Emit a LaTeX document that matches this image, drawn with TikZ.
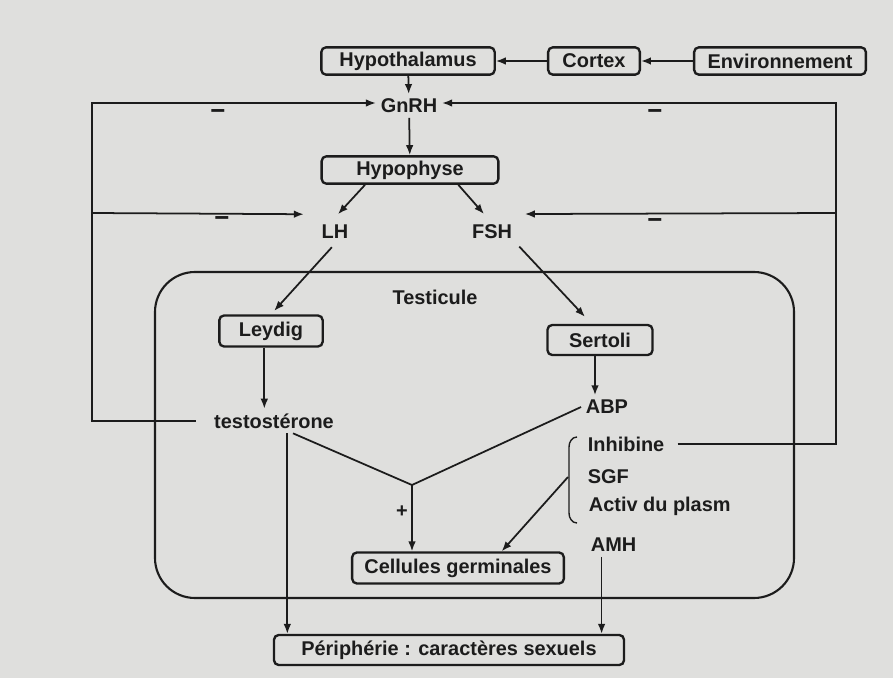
\documentclass[tikz,border=0pt]{standalone}
\usepackage{fontspec}
\setmainfont{Liberation Sans}
\usetikzlibrary{arrows.meta,calc}
\definecolor{paper}{RGB}{223,223,221}
\definecolor{ink}{RGB}{28,28,28}

\begin{document}
\begin{tikzpicture}[x=0.03cm, y=-0.03cm, >={Latex[length=8.5pt,width=6.5pt]},
  every node/.style={font=\fontsize{17}{20}\selectfont\bfseries, text=ink},
  box/.style={draw=ink, line width=2pt, rounded corners=4pt, inner sep=0pt},
  lbl/.style={inner sep=4pt},
  sign/.style={inner sep=2pt, font=\fontsize{22}{24}\selectfont\bfseries},
  link/.style={draw=ink, line width=1.5pt}]

  % Background
  \fill[paper] (0,0) rectangle (893,678);

  % Top row
  \node[box, minimum width=5.2cm, minimum height=0.82cm] (hypo) at (408,61) {Hypothalamus};
  \node[box, minimum width=2.75cm, minimum height=0.82cm] (cortex) at (594,61) {Cortex};
  \node[box, minimum width=5.15cm, minimum height=0.82cm] (env) at (780,61) {Environnement};
  \draw[link, ->] (env) -- (cortex);
  \draw[link, ->] (cortex) -- (hypo);

  % Hypophysis
  \node[lbl] (gnrh) at (409,106) {GnRH};
  \node[box, minimum width=5.3cm, minimum height=0.82cm] (hypoph) at (410,170) {Hypophyse};
  \node[lbl] (lh) at (335,232) {LH};
  \node[lbl] (fsh) at (492,232) {FSH};
  \draw[link, ->] (hypo) -- (gnrh);
  \draw[link, ->] (gnrh) -- (hypoph);
  \draw[link, ->] ([xshift=-1.35cm]hypoph.south) -- ([shift={(3,-6)}]lh.north);
  \draw[link, ->] ([xshift=1.45cm]hypoph.south) -- ([shift={(-8,-6)}]fsh.north);

  % Testicule
  \draw[draw=ink, line width=1.8pt, rounded corners=1.2cm] (155,272) rectangle (794,598);
  \node[lbl] (testis) at (435,297) {Testicule};
  \node[box, minimum width=3.1cm, minimum height=0.93cm] (leydig) at (271,331) {Leydig};
  \node[box, minimum width=3.15cm, minimum height=0.9cm] (sertoli) at (600,340) {Sertoli};
  \draw[link, ->, shorten <=4pt, shorten >=4pt] (lh.south) -- (leydig.north);
  \draw[link, ->, shorten <=3pt] (fsh.south east) -- ([shift={(-15,-7)}]sertoli.north);

  % Secretions
  \node[lbl] (testo) at (274,421) {testostérone};
  \node[lbl] (abp) at (607,407) {ABP};
  \node[lbl, anchor=west] (inhib) at (583,444) {Inhibine};
  \node[lbl, anchor=west] (sgf) at (583,477) {SGF};
  \node[lbl, anchor=west] (activ) at (584,506) {Activ du plasm};
  \node[lbl, anchor=west] (amh) at (586,545) {AMH};
  \draw[link, ->] ([xshift=-0.2cm]leydig.south) -- ([xshift=-0.2cm]leydig.south |- testo.north);
  \draw[link, ->] ([xshift=-0.15cm]sertoli.south) -- ([xshift=-0.15cm]sertoli.south |- abp.north);

  % Brace
  \draw[link, line width=1.2pt] (577,437) to[out=180, in=90] (569,447) -- (569,513)
    to[out=-90, in=180] (577,523);
  \coordinate (brace) at (568,477);

  % Targets
  \node[box, minimum width=6.35cm, minimum height=0.93cm] (germ) at (458,568) {Cellules germinales};
  \node[box, minimum width=10.5cm, minimum height=0.9cm] (periph) at (449,650) {Périphérie : caractères sexuels};

  % Action on germ cells
  \coordinate (vj) at (412,485);
  \draw[link] ([xshift=0.57cm]testo.south) -- (vj) -- (abp.west);
  \draw[link, ->] (vj) -- (vj |- germ.north);
  \node[lbl] (plus) at (402,512) {+};
  \draw[link, ->] (brace) -- ([xshift=-1.9cm]germ.north east);

  % Action on periphery
  \draw[link, ->] ([xshift=0.4cm]testo.south) -- ([xshift=0.4cm]testo.south |- periph.north);
  \draw[link, ->] ([xshift=-0.36cm]amh.south) -- ([xshift=-0.36cm]amh.south |- periph.north);

  % Feedback (left)
  \coordinate (fbl) at (92,103);
  \coordinate (fbl2) at (92,213);
  \draw[link, ->] ([xshift=-0.4cm]testo.west) -| (fbl) -- (fbl -| gnrh.west);
  \draw[link, ->] (fbl2) -- ([shift={(-13,-6)}]lh.north west);
  \node[sign] (minus1) at (218,115) {−};
  \node[sign] (minus2) at (222,222) {−};

  % Feedback (right)
  \coordinate (fbr) at (836,103);
  \coordinate (fbr2) at (836,213);
  \draw[link, ->] ([xshift=0.25cm]inhib.east) -| (fbr) -- (fbr -| gnrh.east);
  \draw[link, ->] (fbr2) -- ([shift={(8,-6)}]fsh.north east);
  \node[sign] (minus3) at (655,115) {−};
  \node[sign] (minus4) at (655,224) {−};
\end{tikzpicture}
\end{document}
